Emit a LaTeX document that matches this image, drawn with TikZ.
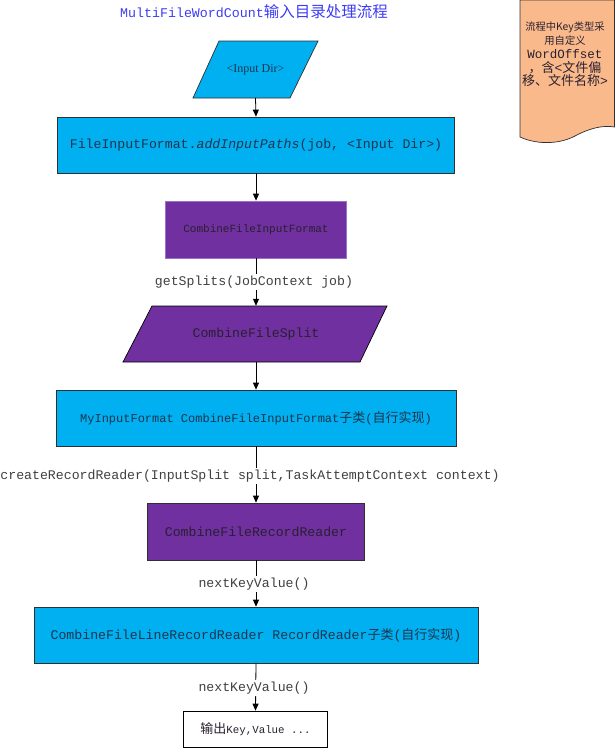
\documentclass[tikz,border=0pt]{standalone}
\usepackage{fontspec}
\setmainfont{Liberation Serif}
\setmonofont{Liberation Mono}
\newfontfamily\cjk{Noto Sans CJK SC}
\usetikzlibrary{arrows.meta}
\definecolor{cyanbox}{HTML}{00B0F0}
\definecolor{purplebox}{HTML}{7030A0}
\definecolor{purpleline}{HTML}{9A72C8}
\definecolor{boxline}{HTML}{303030}
\definecolor{cyantext}{HTML}{1C3550}
\definecolor{purpletext}{HTML}{2A2030}
\definecolor{lbltext}{HTML}{404040}
\definecolor{titleblue}{HTML}{3C3CF5}
\definecolor{notefill}{HTML}{F9B98A}
\begin{document}
\begin{tikzpicture}[x=1pt,y=-1pt,
  cbox/.style={draw=boxline, fill=cyanbox, minimum height=56pt, inner sep=0pt, text=cyantext, line width=0.7pt},
  pbox/.style={draw=boxline, fill=purplebox, minimum height=57pt, inner sep=0pt, text=purpletext, line width=0.7pt},
  plain/.style={inner sep=0pt},
  lbl/.style={fill=white, inner sep=1.5pt, text=lbltext, font=\ttfamily\fontsize{13.2}{15}\selectfont},
  arr/.style={-{Triangle[length=7pt,width=6pt]}, line width=0.8pt, black}
]
\useasboundingbox (0,0) rectangle (615,748);

% note (document shape)
\draw[fill=notefill, draw=boxline, line width=0.7pt] (520,0) -- (614.5,0) -- (614.5,127)
  .. controls (603,125) and (590,128) .. (575,136)
  .. controls (562,143) and (540,146) .. (520,137) -- cycle;
\node[plain, align=center, font=\cjk\fontsize{13}{13.8}\selectfont, text=purpletext] (note) at (565,54.5)
  {{\fontsize{10.3}{13.8}\selectfont 流程中Key类型采}\\{\fontsize{10.3}{13.8}\selectfont 用自定义}\\{\ttfamily\fontsize{12.5}{13.8}\selectfont WordOffset}\\，含{\ttfamily <}文件偏\\移、文件名称{\ttfamily >}};

% title
\node[plain, text=titleblue] (title) at (254,12)
  {{\ttfamily\fontsize{13.3}{16}\selectfont MultiFileWordCount}{\cjk\fontsize{15.5}{16}\selectfont 输入目录处理流程}};

% parallelograms
\draw[fill=cyanbox, draw=boxline, line width=0.7pt] (219,41) -- (318,41) -- (290,98) -- (193,98) -- cycle;
\node[plain, minimum width=90pt, minimum height=57pt, text=cyantext, font=\fontsize{12}{14}\selectfont] (in) at (255.5,69.5) {<Input Dir>};

\draw[fill=purplebox, draw=black, line width=0.7pt] (152,306) -- (387,306) -- (360,362) -- (123,362) -- cycle;
\node[plain, minimum width=200pt, minimum height=56pt, text=purpletext, font=\ttfamily\fontsize{13.2}{15}\selectfont] (cfs) at (256,334) {CombineFileSplit};

% boxes
\node[cbox, minimum width=397pt, font=\ttfamily\fontsize{13.2}{15}\selectfont] (fif) at (256,145)
  {FileInputFormat.\textit{addInputPaths}(job, <Input Dir>)};
\node[pbox, draw=purpleline, minimum width=181pt, font=\ttfamily\fontsize{11}{13}\selectfont] (cfif) at (256,229.5)
  {CombineFileInputFormat};
\node[cbox, minimum width=400pt, font=\ttfamily\fontsize{12}{14}\selectfont] (myif) at (256,418)
  {MyInputFormat CombineFileInputFormat{\cjk\fontsize{13}{14}\selectfont 子类}({\cjk\fontsize{13}{14}\selectfont 自行实现})};
\node[pbox, minimum width=217pt, font=\ttfamily\fontsize{13.2}{15}\selectfont] (cfrr) at (256,531.5)
  {CombineFileRecordReader};
\node[cbox, minimum width=444pt, font=\ttfamily\fontsize{13.2}{15}\selectfont] (cflrr) at (256,635)
  {CombineFileLineRecordReader RecordReader{\cjk\fontsize{13}{14}\selectfont 子类}({\cjk\fontsize{13}{14}\selectfont 自行实现})};
\node[draw=black, fill=white, minimum width=144pt, minimum height=36pt, inner sep=0pt, line width=0.7pt, text=purpletext] (out) at (255.5,729)
  {{\cjk\fontsize{13}{14}\selectfont 输出}{\ttfamily\fontsize{10.8}{13}\selectfont Key,Value ...}};

% connectors
\draw[arr] (in.south) -- (fif.north);
\draw[arr] (fif.south) -- (cfif.north);
\draw[arr] (cfif.south) -- (cfs.north);
\draw[arr] (cfs.south) -- (myif.north);
\draw[arr] (myif.south) -- (cfrr.north);
\draw[arr] (cfrr.south) -- (cflrr.north);
\draw[arr] (cflrr.south) -- (out.north);

% labels
\node[lbl] (l1) at (254,282) {getSplits(JobContext job)};
\node[lbl] (l2) at (250,476) {createRecordReader(InputSplit split,TaskAttemptContext context)};
\node[lbl] (l3) at (254,584) {nextKeyValue()};
\node[lbl] (l4) at (254,688) {nextKeyValue()};
\end{tikzpicture}
\end{document}
